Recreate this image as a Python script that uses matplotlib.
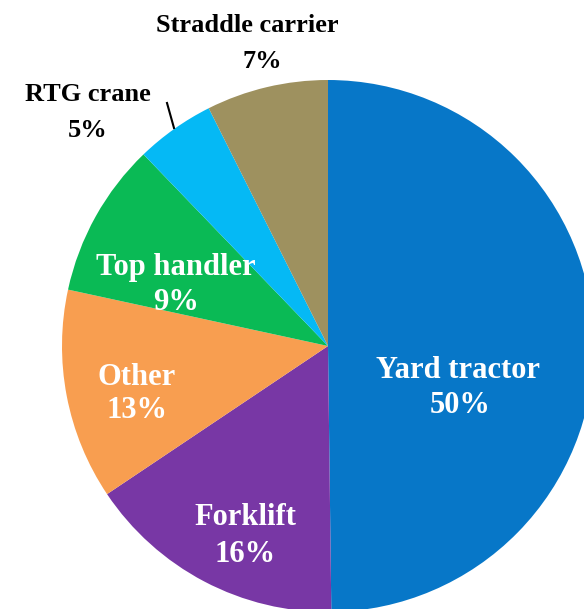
import matplotlib
matplotlib.use("Agg")
import matplotlib.pyplot as plt

labels = ["Yard tractor", "Forklift", "Other", "Top handler", "RTG crane", "Straddle carrier"]
shares = [49.8, 15.8, 12.8, 9.4, 4.8, 7.4]
colors = ["#0777C8", "#7837A5", "#F89E50", "#0ABA55", "#05B9F5", "#9E915F"]

# label layout: name centre x, name baseline, pct centre x, pct baseline (pixels from top)
label_xy = [
    (458, 378, 460, 413),
    (245, 525, 245, 562),
    (137, 385, 137, 418),
    (176, 275, 176, 310),
    (88, 101, 88, 137),
    (247, 32, 262, 68),
]
outside = [False, False, False, False, True, True]

W, H = 584, 609
fig = plt.figure(figsize=(W / 100, H / 100), dpi=100)
ax = fig.add_axes([0, 0, 1, 1])

ax.pie(shares, colors=colors, startangle=90, counterclock=False,
       center=(328, 263), radius=266,
       wedgeprops=dict(linewidth=0, antialiased=True))

ax.set_xlim(0, W)
ax.set_ylim(0, H)
ax.set_aspect("equal")
ax.axis("off")

font = dict(fontfamily="Liberation Serif", fontweight="bold", ha="center", va="baseline")
for name, val, (nx, ny, px, py), out in zip(labels, shares, label_xy, outside):
    c = "black" if out else "white"
    fs = 19 if out else 22
    ax.text(nx, H - ny, name, color=c, fontsize=fs, **font)
    ax.text(px, H - py, f"{val:.0f}%", color=c, fontsize=fs, **font)

# leader line for RTG crane
ax.plot([167, 174], [H - 103, H - 128], color="black", linewidth=1.5)

fig.savefig("out.png", dpi=100)
